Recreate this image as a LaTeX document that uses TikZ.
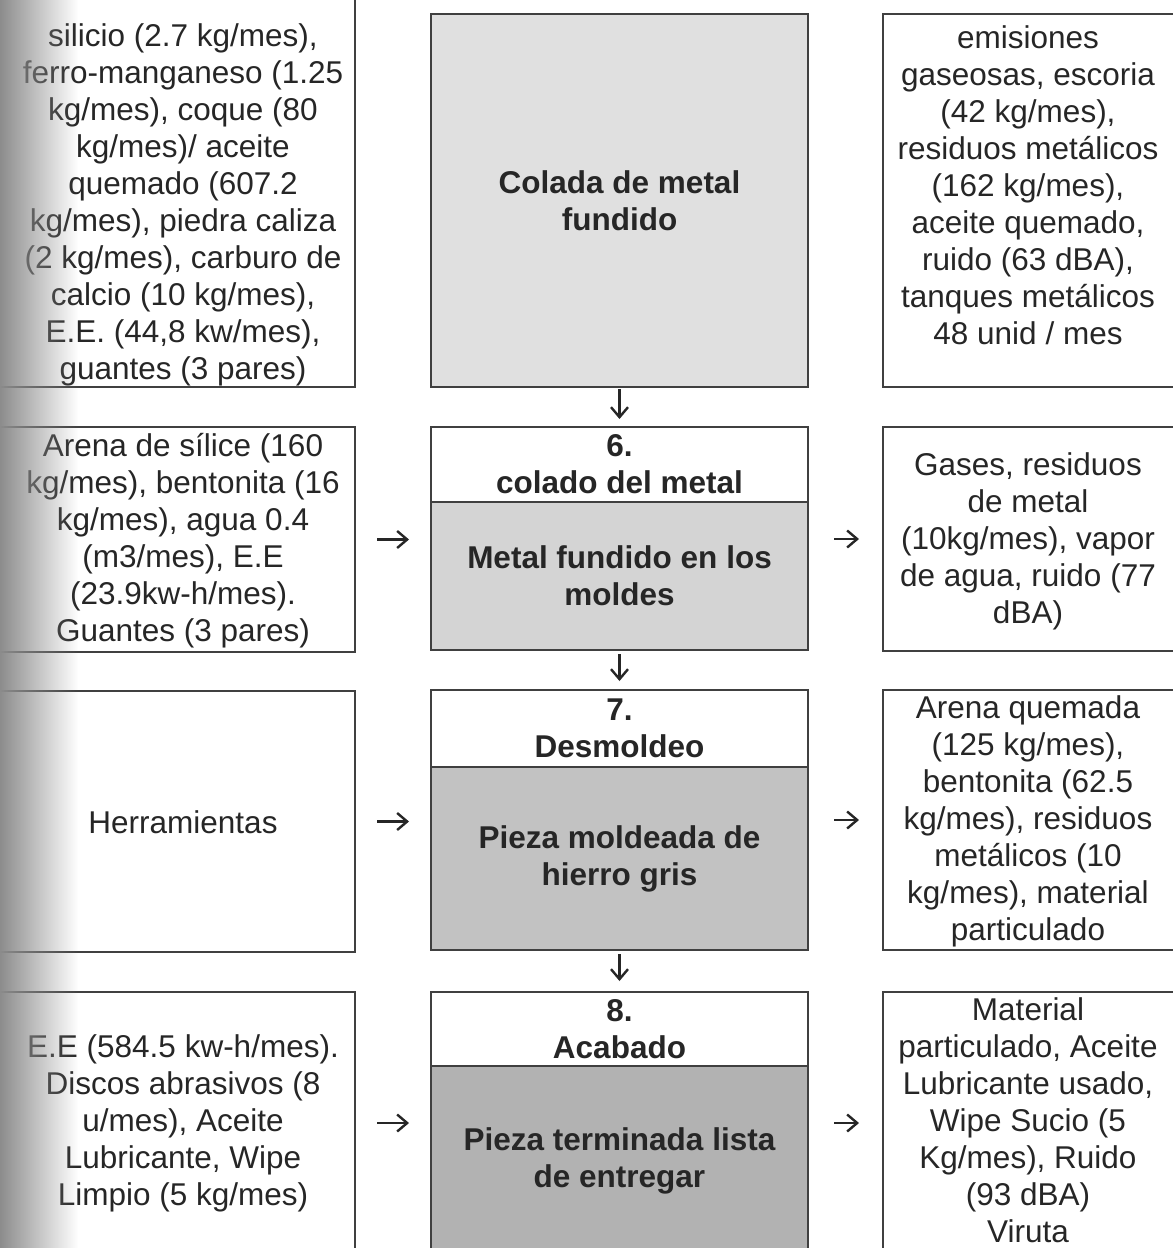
\documentclass[tikz,border=0pt]{standalone}
\usepackage{fontspec}
\setmainfont{Liberation Sans}
\usetikzlibrary{arrows.meta,fadings}
\tikzfading[name=faderight, left color=transparent!0, right color=transparent!100]
\begin{document}
\begin{tikzpicture}[x=1pt,y=-1pt,
  box/.style={draw=black!75, line width=1.8pt, rectangle, inner sep=0pt, outer sep=0pt, anchor=north west},
  txt/.style={align=center, font=\fontsize{31.5}{37}\selectfont, text=black!85, inner sep=0pt},
  btxt/.style={align=center, font=\fontsize{31.5}{37}\selectfont\bfseries, text=black!85},
  arr/.style={draw=black!85, line width=2.4pt, -{Straight Barb[length=10pt,width=17pt]}},
]
\useasboundingbox (0,0) rectangle (1173,1248);
\clip (0,0) rectangle (1173,1248);
\fill[white] (0,0) rectangle (1173,1248);

% ---------- row 1
\node[box, minimum width=360, minimum height=397] (L1) at (-5,-10) {};
\node[box, fill=black!12, minimum width=377, minimum height=373] (C1) at (431,14) {};
\node[btxt] (C1t) at (C1.center) {Colada de metal\\fundido};
\node[box, minimum width=293, minimum height=373] (R1) at (883,14) {};
\node[txt] (L1t) at (183,205) {silicio (2.7 kg/mes),\\ferro-manganeso (1.25\\kg/mes), coque (80\\kg/mes)/ aceite\\quemado (607.2\\kg/mes), piedra caliza\\(2 kg/mes), carburo de\\calcio (10 kg/mes),\\E.E. (44,8 kw/mes),\\guantes (3 pares)};
\node[txt] (R1t) at (1028,185) {emisiones\\gaseosas, escoria\\(42 kg/mes),\\residuos metálicos\\(162 kg/mes),\\aceite quemado,\\ruido (63 dBA),\\tanques metálicos\\48 unid / mes};

% ---------- row 2
\node[box, minimum width=360, minimum height=225] (L2) at (-5,427) {};
\node[box, minimum width=377, minimum height=75] (H2) at (431,427) {};
\node[btxt] at (H2.center) {6.\\colado del metal};
\node[box, fill=black!17, minimum width=377, minimum height=148] (B2) at (431,502) {};
\node[btxt] at (B2.center) {Metal fundido en los\\moldes};
\node[box, minimum width=293, minimum height=224] (R2) at (883,427) {};
\node[txt] (L2t) at (183,541) {Arena de sílice (160\\kg/mes), bentonita (16\\kg/mes), agua 0.4\\(m3/mes), E.E\\(23.9kw-h/mes).\\Guantes (3 pares)};
\node[txt] (R2t) at (1028,541) {Gases, residuos\\de metal\\(10kg/mes), vapor\\de agua, ruido (77\\dBA)};

% ---------- row 3
\node[box, minimum width=360, minimum height=261] (L3) at (-5,691) {};
\node[box, minimum width=377, minimum height=77] (H3) at (431,690) {};
\node[btxt] at (H3.center) {7.\\Desmoldeo};
\node[box, fill=black!24, minimum width=377, minimum height=183] (B3) at (431,767) {};
\node[btxt] at (B3.center) {Pieza moldeada de\\hierro gris};
\node[box, minimum width=293, minimum height=260] (R3) at (883,690) {};
\node[txt] (L3t) at (183,822) {Herramientas};
\node[txt] (R3t) at (1028,821) {Arena quemada\\(125 kg/mes),\\bentonita (62.5\\kg/mes), residuos\\metálicos (10\\kg/mes), material\\particulado};

% ---------- row 4
\node[box, minimum width=360, minimum height=262] (L4) at (-5,992) {};
\node[box, minimum width=377, minimum height=74] (H4) at (431,992) {};
\node[btxt] at (H4.center) {8.\\Acabado};
\node[box, fill=black!30, minimum width=377, minimum height=190] (B4) at (431,1066) {};
\node[btxt] at (B4.center) {Pieza terminada lista\\de entregar};
\node[box, minimum width=293, minimum height=262] (R4) at (883,992) {};
\node[txt] (L4t) at (183,1123) {E.E (584.5 kw-h/mes).\\Discos abrasivos (8\\u/mes), Aceite\\Lubricante, Wipe\\Limpio (5 kg/mes)};
\node[txt] (R4t) at (1028,1120) {Material\\particulado, Aceite\\Lubricante usado,\\Wipe Sucio (5\\Kg/mes), Ruido\\(93 dBA)\\Viruta};

% ---------- connectors
\draw[arr, shorten <=2pt, shorten >=8pt] (C1.south) -- (H2.north);
\draw[arr, shorten <=4pt, shorten >=9pt] (B2.south) -- (H3.north);
\draw[arr, shorten <=4pt, shorten >=11pt] (B3.south) -- (H4.north);

\draw[arr, shorten <=22pt, shorten >=22pt] (L2.east) -- (L2.east -| H2.west);
\draw[arr, shorten <=26pt, shorten >=24pt] (R2.west -| H2.east) -- (R2.west);
\draw[arr, shorten <=22pt, shorten >=22pt] (L3.east) -- (L3.east -| H3.west);
\draw[arr, shorten <=26pt, shorten >=24pt] (R3.west -| H3.east) -- (R3.west);
\draw[arr, shorten <=22pt, shorten >=22pt] (L4.east) -- (L4.east -| H4.west);
\draw[arr, shorten <=26pt, shorten >=24pt] (R4.west -| H4.east) -- (R4.west);

% ---------- scan shadow at the left edge
\fill[black!45, path fading=faderight] (0,-20) rectangle (78,1270);
\end{tikzpicture}
\end{document}
